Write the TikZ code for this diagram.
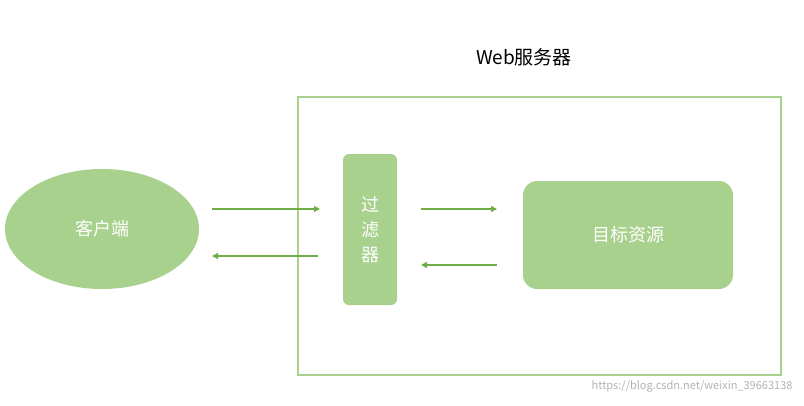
\documentclass[tikz,border=0pt]{standalone}
\usepackage{fontspec}
\setmainfont{Noto Sans CJK SC}
\usetikzlibrary{arrows.meta,shapes.geometric}
\begin{document}
\begin{tikzpicture}[x=1pt,y=-1pt,
  fillbox/.style={fill=boxgreen,draw=none,text=white,font=\fontsize{18}{22}\selectfont},
  conn/.style={draw=arrowgreen,line width=1.8pt,-{Triangle[length=6pt,width=6pt]}}]
\definecolor{boxgreen}{HTML}{A9D18E}
\definecolor{arrowgreen}{HTML}{70AD47}
\useasboundingbox (0,0) rectangle (804,405);
\node[draw=boxgreen,line width=1.5pt,minimum width=483pt,minimum height=278pt,anchor=north west] (server) at (297,96) {};
\node[font=\fontsize{19}{22}\selectfont] (title) at (524,57) {Web服务器};
\node[fillbox,ellipse,minimum width=194pt,minimum height=120pt] (client) at (102,229) {客户端};
\node[fillbox,rounded corners=6pt,minimum width=54pt,minimum height=151pt,align=center,font=\fontsize{18}{25}\selectfont] (filter) at (370,229.5) {过\\滤\\器};
\node[fillbox,rounded corners=14pt,minimum width=210pt,minimum height=108pt] (target) at (628,235) {目标资源};
\coordinate (a1) at (212,209); \coordinate (a2) at (320,209);
\coordinate (b1) at (318,256); \coordinate (b2) at (212,256);
\coordinate (c1) at (421,209); \coordinate (c2) at (497,209);
\coordinate (d1) at (497,265); \coordinate (d2) at (421,265);
\draw[conn] (a1) -- (a2);
\draw[conn] (b1) -- (b2);
\draw[conn] (c1) -- (c2);
\draw[conn] (d1) -- (d2);
\node[text=gray!60,font=\fontsize{11}{13}\selectfont,anchor=east] (wm) at (796,386) {https://blog.csdn.net/weixin\_39663138};
\end{tikzpicture}
\end{document}
